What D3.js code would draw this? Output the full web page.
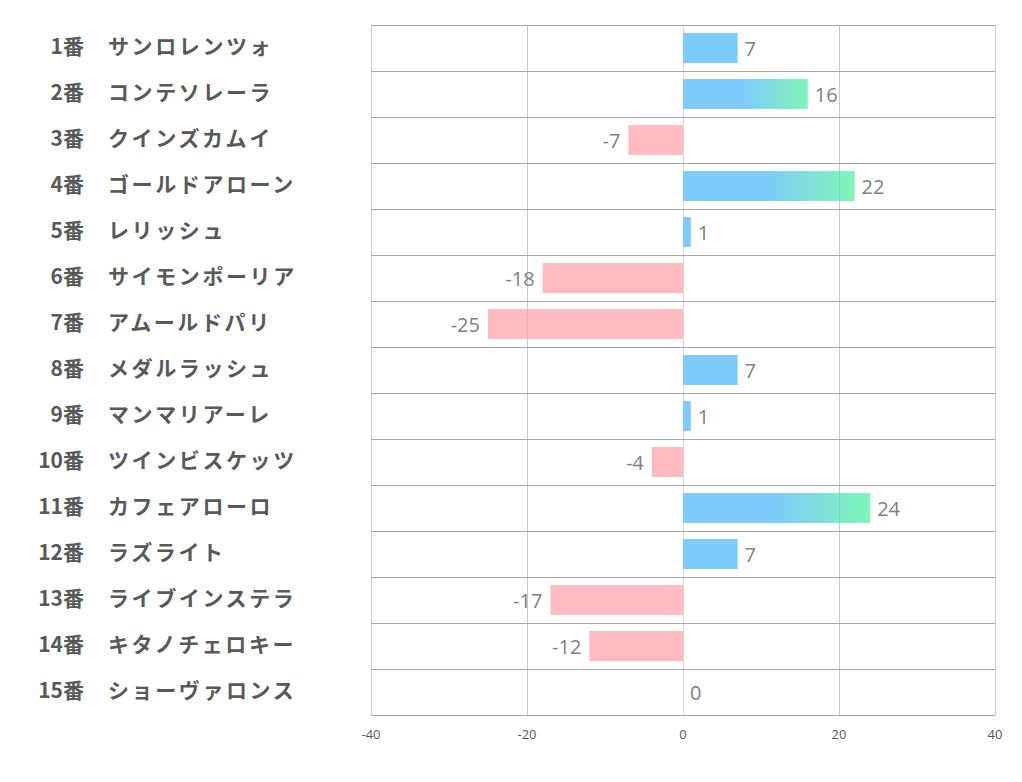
<!DOCTYPE html>
<html><head><meta charset="utf-8">
<script src="https://cdn.jsdelivr.net/npm/d3@7"></script>
<style>body{margin:0;background:#fff}svg{display:block}</style>
</head><body><svg id="c" width="1022" height="782"></svg>
<script>
const numbers = ["1番","2番","3番","4番","5番","6番","7番","8番","9番","10番","11番","12番","13番","14番","15番"];
const names = ["サンロレンツォ","コンテソレーラ","クインズカムイ","ゴールドアローン","レリッシュ","サイモンポーリア","アムールドパリ","メダルラッシュ","マンマリアーレ","ツインビスケッツ","カフェアローロ","ラズライト","ライブインステラ","キタノチェロキー","ショーヴァロンス"];
const values = [7,16,-7,22,1,-18,-25,7,1,-4,24,7,-17,-12,0];
const xTicks = [-40,-20,0,20,40];

const svg = d3.select("#c");
const L=371,R=995,T=25,B=715;
const x = d3.scaleLinear().domain([-40,40]).range([L,R]);
const y = d3.scaleBand().domain(d3.range(values.length)).range([T,B]).paddingInner(0.35).paddingOuter(0.175);
const rowH = (B-T)/values.length;

const defs = svg.append("defs");
const g = defs.append("linearGradient").attr("id","grad").attr("x1","0").attr("x2","1").attr("y1","0").attr("y2","0");
g.append("stop").attr("offset","0.47").attr("stop-color","#7dcafd");
g.append("stop").attr("offset","1").attr("stop-color","#7ff6b6");

// vertical grid
svg.append("g").selectAll("line").data(xTicks).join("line")
  .attr("x1",d=>x(d)+0.5).attr("x2",d=>x(d)+0.5).attr("y1",T).attr("y2",B)
  .attr("stroke","#d9d9d9").attr("stroke-width",1);
// horizontal grid
svg.append("g").selectAll("line").data(d3.range(values.length+1)).join("line")
  .attr("x1",L).attr("x2",R).attr("y1",d=>Math.round(T+d*rowH)+0.5).attr("y2",d=>Math.round(T+d*rowH)+0.5)
  .attr("stroke","#a6a6a6").attr("stroke-width",1);

// bars
svg.append("g").selectAll("rect").data(values).join("rect")
  .attr("x",d=>x(Math.min(0,d))).attr("width",d=>Math.abs(x(d)-x(0)))
  .attr("y",(d,i)=>y(i)).attr("height",y.bandwidth())
  .attr("fill",d=>d<0?"#ffbbbd":(d>=10?"url(#grad)":"#7dcafd"));

// faint grid showing through bars
svg.append("g").selectAll("line").data(xTicks.filter(d=>d!==0)).join("line")
  .attr("x1",d=>x(d)+0.5).attr("x2",d=>x(d)+0.5).attr("y1",T).attr("y2",B)
  .attr("stroke","rgba(0,0,0,0.07)").attr("stroke-width",1);

// value labels
svg.append("g").selectAll("text").data(values).join("text")
  .attr("x",d=>d<0?x(d)-8:x(d)+7)
  .attr("y",(d,i)=>y(i)+y.bandwidth()/2+3)
  .attr("text-anchor",d=>d<0?"end":"start")
  .attr("dominant-baseline","middle")
  .attr("font-family","'Open Sans','Noto Sans',sans-serif").attr("font-size",20)
  .attr("fill","#7f7f7f").text(d=>d);

// x axis tick labels
svg.append("g").selectAll("text").data(xTicks).join("text")
  .attr("x",d=>x(d)).attr("y",739).attr("text-anchor","middle")
  .attr("font-family","'Open Sans','Noto Sans',sans-serif").attr("font-size",13)
  .attr("fill","#595959").text(d=>d);

// category labels
const cat = svg.append("g").attr("font-family","'Noto Sans CJK JP',sans-serif").attr("font-weight","bold").attr("font-size",21).attr("fill","#595959");
cat.selectAll("text.n").data(numbers).join("text").attr("class","n")
  .attr("x",84).attr("y",(d,i)=>T+rowH*(i+0.5)).attr("text-anchor","end").attr("dominant-baseline","middle").text(d=>d);
cat.selectAll("text.m").data(names).join("text").attr("class","m")
  .attr("x",108).attr("y",(d,i)=>T+rowH*(i+0.5)).attr("dominant-baseline","middle")
  .attr("letter-spacing",2.6).text(d=>d);
</script></body></html>
